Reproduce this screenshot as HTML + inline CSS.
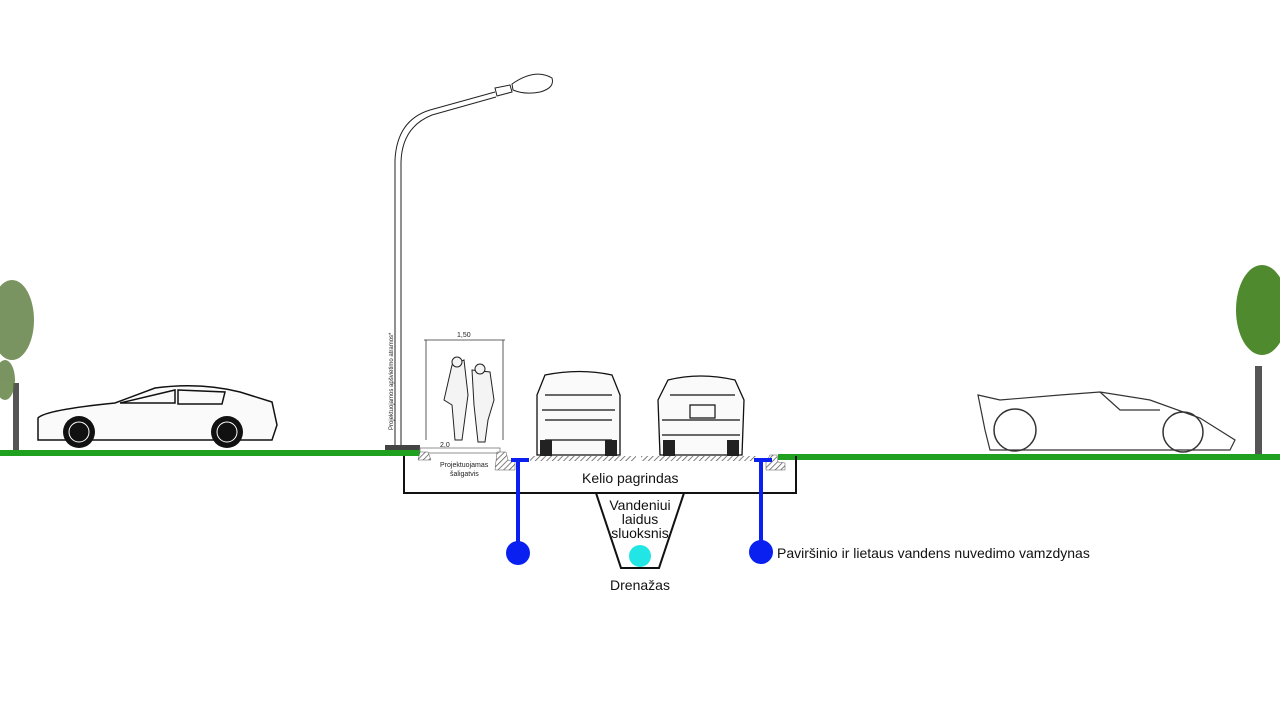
<!DOCTYPE html>
<html><head><meta charset="utf-8"><style>
html,body{margin:0;padding:0;background:#fff;width:1280px;height:719px;overflow:hidden}
svg{display:block}
text{font-family:"Liberation Sans","DejaVu Sans",sans-serif}
</style></head><body>
<svg width="1280" height="719" viewBox="0 0 1280 719" xmlns="http://www.w3.org/2000/svg">
<defs>
<pattern id="h" width="4" height="4" patternUnits="userSpaceOnUse" patternTransform="rotate(45)">
<rect width="4" height="4" fill="#fff"/><line x1="0" y1="0" x2="0" y2="4" stroke="#555" stroke-width="1.5"/></pattern>
</defs>
<!-- ground -->
<rect x="0" y="450" width="420" height="6" fill="#1fa01f"/>
<rect x="778" y="454" width="502" height="6" fill="#1fa01f"/>
<!-- trees -->
<rect x="13" y="383" width="6" height="67" fill="#555"/>
<g fill="#5a7a3a" opacity="0.8"><ellipse cx="12" cy="320" rx="22" ry="40"/><ellipse cx="5" cy="380" rx="10" ry="20"/></g>
<rect x="1255" y="366" width="7" height="88" fill="#555"/>
<g fill="#4f8a2e"><ellipse cx="1262" cy="310" rx="26" ry="45"/></g>
<!-- left car -->
<g fill="none" stroke="#111" stroke-width="1.5">
<path d="M38 440 L38 418 Q45 410 115 403 L155 388 Q200 382 240 392 L272 402 L277 425 L272 440 Z" fill="#fafafa"/>
<path d="M120 403 L175 390 L175 403 Z M178 390 L225 392 L222 404 L178 404 Z"/>
</g>
<circle cx="79" cy="432" r="16" fill="#111"/><circle cx="79" cy="432" r="10" fill="none" stroke="#fff" stroke-width="1"/>
<circle cx="227" cy="432" r="16" fill="#111"/><circle cx="227" cy="432" r="10" fill="none" stroke="#fff" stroke-width="1"/>
<!-- right car -->
<g fill="none" stroke="#333" stroke-width="1.2">
<path d="M978 395 L1000 400 L1060 395 L1100 392 L1150 400 L1200 418 L1235 440 L1230 450 L990 450 L985 430 Z"/>
<path d="M1100 392 L1120 410 L1160 410"/>
</g>
<circle cx="1015" cy="430" r="21" fill="none" stroke="#333" stroke-width="1.5"/>
<circle cx="1183" cy="432" r="20" fill="none" stroke="#333" stroke-width="1.5"/>
<!-- lamp -->
<g fill="none" stroke="#222" stroke-width="1">
<path d="M395 445 L395 160 Q397 120 430 110 L495 92"/>
<path d="M401 445 L401 162 Q402 127 432 115 L496 97"/>
<path d="M495 88 L510 85 L512 92 L497 96 Z"/>
<path d="M512 84 Q535 68 552 78 Q555 88 540 92 Q525 95 513 90 Z"/>
</g>
<rect x="385" y="445" width="35" height="5" fill="#444"/>
<text transform="translate(393,430) rotate(-90)" font-size="6" fill="#222">Projektuojamos apšvietimo atramos*</text>
<!-- dimension -->
<g stroke="#333" stroke-width="0.8" fill="none"><path d="M424 340 L505 340 M426 340 L426 440 M503 340 L503 440"/></g>
<text x="457" y="337" font-size="7" fill="#222">1,50</text>
<text x="440" y="447" font-size="7" fill="#222">2,0</text>
<!-- pedestrians -->
<g fill="#f4f4f4" stroke="#222" stroke-width="1">
<path d="M452 365 L464 360 L468 395 L462 440 L455 440 L452 405 L444 400 Z"/>
<circle cx="457" cy="362" r="5"/>
<path d="M472 370 L490 372 L494 400 L488 420 L485 442 L478 442 L474 405 Z"/>
<circle cx="480" cy="369" r="5"/>
</g>
<!-- sidewalk -->
<rect x="420" y="448" width="80" height="5" fill="#fff" stroke="#777" stroke-width="0.8"/>
<path d="M418 460 L420 452 L428 452 L431 460 Z" fill="url(#h)" stroke="#555" stroke-width="0.5"/>
<path d="M495 470 L497 452 L506 452 L508 460 L515 462 L515 470 Z" fill="url(#h)" stroke="#555" stroke-width="0.5"/>
<path d="M766 470 L766 462 L770 455 L777 455 L778 462 L785 463 L785 470 Z" fill="url(#h)" stroke="#555" stroke-width="0.5"/>
<text x="440" y="467" font-size="7" fill="#222">Projektuojamas</text>
<text x="450" y="476" font-size="7" fill="#222">šaligatvis</text>
<!-- road surface -->
<rect x="530" y="456" width="227" height="5" fill="url(#h)"/>
<rect x="636" y="455" width="5" height="7" fill="#fff"/>
<!-- box -->
<path d="M404 456 L404 493 L796 493 L796 456" fill="none" stroke="#111" stroke-width="2"/>
<text x="582" y="483" font-size="14" fill="#111">Kelio pagrindas</text>
<!-- trapezoid -->
<path d="M596 493 L621 568 L659 568 L684 493" fill="none" stroke="#111" stroke-width="2"/>
<text x="640" y="510" font-size="14" fill="#111" text-anchor="middle">Vandeniui</text>
<text x="640" y="524" font-size="14" fill="#111" text-anchor="middle">laidus</text>
<text x="640" y="538" font-size="14" fill="#111" text-anchor="middle">sluoksnis</text>
<circle cx="640" cy="556" r="11" fill="#22e6e6"/>
<text x="640" y="590" font-size="14" fill="#111" text-anchor="middle">Drenažas</text>
<!-- vehicles center -->
<g fill="#fafafa" stroke="#111" stroke-width="1.3">
<path d="M537 455 L537 395 L545 375 Q580 368 612 375 L620 395 L620 455 Z"/>
<path d="M660 455 L658 400 L668 380 Q700 372 735 380 L744 400 L742 455 Z"/>
</g>
<g fill="none" stroke="#111" stroke-width="1.2">
<path d="M545 395 L612 395 M542 410 L615 410 M545 420 L612 420 M545 440 L612 440"/>
<path d="M670 395 L735 395 M662 420 L740 420 M690 405 L715 405 L715 418 L690 418 Z M662 435 L740 435"/>
</g>
<rect x="540" y="440" width="12" height="16" fill="#222"/><rect x="605" y="440" width="12" height="16" fill="#222"/>
<rect x="663" y="440" width="12" height="16" fill="#222"/><rect x="727" y="440" width="12" height="16" fill="#222"/>
<!-- pipes -->
<g fill="#0a20f0">
<rect x="511" y="458" width="18" height="4"/><rect x="516" y="458" width="4" height="88"/><circle cx="518" cy="553" r="12"/>
<rect x="754" y="458" width="18" height="4"/><rect x="759" y="458" width="4" height="88"/><circle cx="761" cy="552" r="12"/>
</g>
<text x="777" y="558" font-size="14" fill="#111">Paviršinio ir lietaus vandens nuvedimo vamzdynas</text>
</svg>
</body></html>
